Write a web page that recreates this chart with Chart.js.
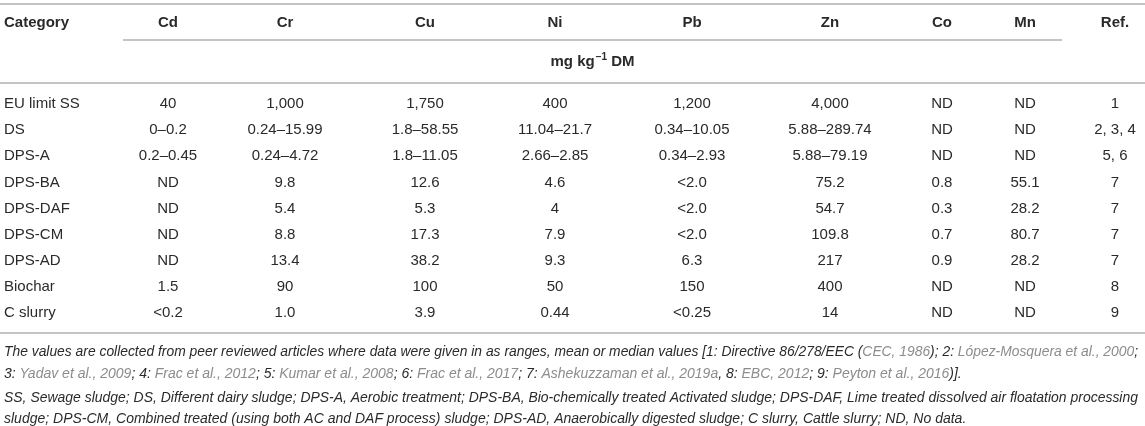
<!DOCTYPE html>
<html>
<head>
<meta charset="utf-8">
<script src="https://cdn.jsdelivr.net/npm/chart.js@4/dist/chart.umd.min.js"></script>
<style>
body{ margin:0; background:#fff; }
#wrap{ width:1145px; height:426px; }
</style>
</head>
<body>
<div id="wrap"><canvas id="tableChart" width="1145" height="426"></canvas></div>
<script>

// rows of the table
const categories = ['EU limit SS','DS','DPS-A','DPS-BA','DPS-DAF','DPS-CM','DPS-AD','Biochar','C slurry'];

// columns
const elements = ['Cd','Cr','Cu','Ni','Pb','Zn','Co','Mn'];

const cd = ['40','0–0.2','0.2–0.45','ND','ND','ND','ND','1.5','<0.2'];
const cr = ['1,000','0.24–15.99','0.24–4.72','9.8','5.4','8.8','13.4','90','1.0'];
const cu = ['1,750','1.8–58.55','1.8–11.05','12.6','5.3','17.3','38.2','100','3.9'];
const ni = ['400','11.04–21.7','2.66–2.85','4.6','4','7.9','9.3','50','0.44'];
const pb = ['1,200','0.34–10.05','0.34–2.93','<2.0','<2.0','<2.0','6.3','150','<0.25'];
const zn = ['4,000','5.88–289.74','5.88–79.19','75.2','54.7','109.8','217','400','14'];
const co = ['ND','ND','ND','0.8','0.3','0.7','0.9','ND','ND'];
const mn = ['ND','ND','ND','55.1','28.2','80.7','28.2','ND','ND'];
const refs = ['1','2, 3, 4','5, 6','7','7','7','7','8','9'];

const unitLabel = 'mg kg';

// layout (column centres on the x scale, 0..1145)
const colX = [168, 285, 425, 555, 692, 830, 942, 1025, 1115];

const textColor = '#2a2a2a';
const lineColor = '#c4c4c4';
const linkColor = '#8c8c8c';

const columns = [
    {key:'Cd', vals:cd},
    {key:'Cr', vals:cr},
    {key:'Cu', vals:cu},
    {key:'Ni', vals:ni},
    {key:'Pb', vals:pb},
    {key:'Zn', vals:zn},
    {key:'Co', vals:co},
    {key:'Mn', vals:mn},
    {key:'Ref.', vals:refs}
];

// one invisible dataset per column, the plugin writes the cell text at each point
let datasets = columns.map((c, ci) => ({
    label: c.key,
    data: categories.map((cat, ri) => ({x: colX[ci], y: cat, text: c.vals[ri]})),
    pointRadius: 0,
    showLine: false
}));

// category column (left aligned)
datasets.unshift({
    label: 'Category',
    data: categories.map(cat => ({x: 4, y: cat, text: cat, left: true})),
    pointRadius: 0,
    showLine: false
});

const footLines = [
    [['The values are collected from peer reviewed articles where data were given in as ranges, mean or median values [1: Directive 86/278/EEC (',0],['CEC, 1986',1],['); 2: ',0],['López-Mosquera et al., 2000',1],[';',0]],
    [['3: ',0],['Yadav et al., 2009',1],['; 4: ',0],['Frac et al., 2012',1],['; 5: ',0],['Kumar et al., 2008',1],['; 6: ',0],['Frac et al., 2017',1],['; 7: ',0],['Ashekuzzaman et al., 2019a',1],[', 8: ',0],['EBC, 2012',1],['; 9: ',0],['Peyton et al., 2016',1],[')].',0]],
    [['SS, Sewage sludge; DS, Different dairy sludge; DPS-A, Aerobic treatment; DPS-BA, Bio-chemically treated Activated sludge; DPS-DAF, Lime treated dissolved air floatation processing',0]],
    [['sludge; DPS-CM, Combined treated (using both AC and DAF process) sludge; DPS-AD, Anaerobically digested sludge; C slurry, Cattle slurry; ND, No data.',0]]
];
const footY = [352, 374, 398, 419];
const footMaxW = 1134;

function hline(ctx, x1, x2, y){
    ctx.beginPath();
    ctx.moveTo(x1, y);
    ctx.lineTo(x2, y);
    ctx.stroke();
}

const tablePlugin = {
    id: 'tablePlugin',
    afterDatasetsDraw(chart){
        const ctx = chart.ctx;
        const xs = chart.scales.x;
        const area = chart.chartArea;
        ctx.save();

        // rules
        ctx.strokeStyle = lineColor;
        ctx.lineWidth = 2;
        hline(ctx, 0, 1145, 4);
        hline(ctx, xs.getPixelForValue(123), xs.getPixelForValue(1062), 40);
        hline(ctx, 0, 1145, area.top - 8);
        hline(ctx, 0, 1145, area.bottom + 7);

        // header
        ctx.fillStyle = textColor;
        ctx.textBaseline = 'middle';
        ctx.font = 'bold 15px "Liberation Sans", Arial, sans-serif';
        ctx.textAlign = 'left';
        ctx.fillText('Category', xs.getPixelForValue(4), 23);
        ctx.textAlign = 'center';
        columns.forEach((c, i) => {
            ctx.fillText(c.key, xs.getPixelForValue(colX[i]), 23);
        });

        // unit line: mg kg-1 DM
        const ux = xs.getPixelForValue((123 + 1062) / 2);
        const a = unitLabel;
        const sup = '−1';
        const b = ' DM';
        ctx.font = 'bold 15px "Liberation Sans", Arial, sans-serif';
        const wa = ctx.measureText(a).width + 1;
        const wb = ctx.measureText(b).width;
        ctx.font = 'bold 10px "Liberation Sans", Arial, sans-serif';
        const ws = ctx.measureText(sup).width;
        let sx = ux - (wa + ws + wb) / 2;
        ctx.textAlign = 'left';
        ctx.font = 'bold 15px "Liberation Sans", Arial, sans-serif';
        ctx.fillText(a, sx, 62);
        ctx.font = 'bold 10px "Liberation Sans", Arial, sans-serif';
        ctx.fillText(sup, sx + wa, 57);
        ctx.font = 'bold 15px "Liberation Sans", Arial, sans-serif';
        ctx.fillText(b, sx + wa + ws, 62);

        // cells
        ctx.font = '15px "Liberation Sans", Arial, sans-serif';
        chart.data.datasets.forEach((ds, di) => {
            const meta = chart.getDatasetMeta(di);
            meta.data.forEach((pt, i) => {
                const d = ds.data[i];
                ctx.textAlign = d.left ? 'left' : 'center';
                ctx.fillText(d.text, pt.x, pt.y);
            });
        });

        // footnotes, squeezed a little when a line runs past the right edge
        ctx.font = 'italic 14px "Liberation Sans", Arial, sans-serif';
        ctx.textAlign = 'left';
        footLines.forEach((line, li) => {
            let total = 0;
            line.forEach(seg => { total += ctx.measureText(seg[0]).width; });
            const k = total > footMaxW ? footMaxW / total : 1;
            ctx.save();
            ctx.translate(4, footY[li]);
            ctx.scale(k, 1);
            let x = 0;
            line.forEach(seg => {
                ctx.fillStyle = seg[1] ? linkColor : textColor;
                ctx.fillText(seg[0], x, 0);
                x += ctx.measureText(seg[0]).width;
            });
            ctx.restore();
        });

        ctx.restore();
    }
};

new Chart(document.getElementById('tableChart'), {
    type: 'scatter',
    data: { datasets: datasets },
    options: {
        responsive: false,
        animation: false,
        events: [],
        layout: { padding: { top: 91, bottom: 100, left: 0, right: 0 } },
        plugins: {
            legend: { display: false },
            tooltip: { enabled: false }
        },
        scales: {
            x: { type: 'linear', min: 0, max: 1145, display: false },
            y: { type: 'category', labels: categories, offset: true, display: false }
        }
    },
    plugins: [tablePlugin]
});
</script>
</body>
</html>
